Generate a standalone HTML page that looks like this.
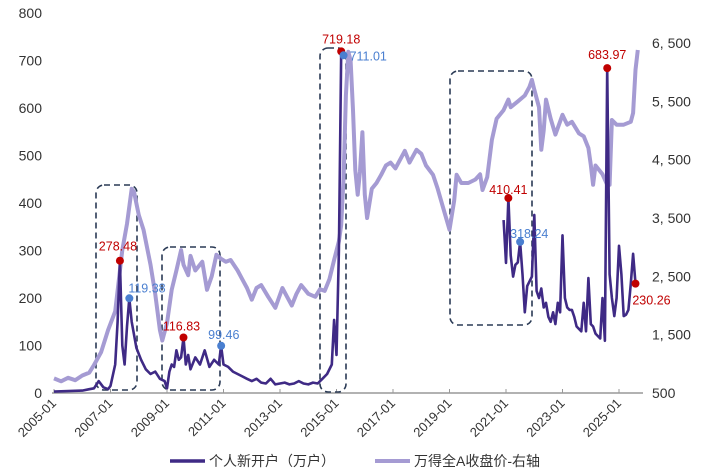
<!DOCTYPE html>
<html><head><meta charset="utf-8"><style>
html,body{margin:0;padding:0;background:#fff;}
svg{display:block;font-family:"Liberation Sans","Noto Sans CJK SC",sans-serif;}
</style></head><body>
<svg id="chart" width="719" height="470" viewBox="0 0 719 470" xmlns="http://www.w3.org/2000/svg">
<g id="axes"></g>
<g id="boxes"></g>
<g id="series"></g>
<g id="anno"></g>
<g id="legend">
  <line x1="170" y1="461" x2="205" y2="461" stroke="#3f2a85" stroke-width="3.5"/>
  <text x="209" y="466" font-size="14" fill="#333">个人新开户（万户）</text>
  <line x1="375" y1="461" x2="410" y2="461" stroke="#a59bd3" stroke-width="4"/>
  <text x="414" y="466" font-size="14" fill="#333">万得全A收盘价-右轴</text>
</g>
</svg>
<script>
// month index = months since 2005-01
const tickLabels = ["2005-01","2007-01","2009-01","2011-01","2013-01","2015-01","2017-01","2019-01","2021-01","2023-01","2025-01"];
const leftTicks = [0,100,200,300,400,500,600,700,800];
const rightTicks = [500,1500,2500,3500,4500,5500,6500];
const rightTickLabels = ["500","1, 500","2, 500","3, 500","4, 500","5, 500","6, 500"];

const indexMonths = [0,3,6,9,12,15,17,20,23,26,29,31,33,34,36,38,41,43,45,46,48,50,52,54,55,57,58,60,63,65,67,69,71,73,75,78,80,82,84,86,88,91,94,97,99,101,103,105,108,111,113,115,117,119,121,122,123,124,125,126,127,128,129,130,131,132,133,135,137,139,141,143,145,147,149,151,154,156,158,161,163,165,168,170,171,173,176,179,181,182,184,186,188,191,193,194,197,200,202,203,204,206,207,208,209,211,213,216,218,220,223,225,227,228,229,230,233,235,236,237,239,242,245,246,247,248];
const indexValues = [750,700,760,720,800,850,980,1200,1580,1900,2950,3400,4000,3950,3550,3300,2700,2200,1580,1400,1700,2270,2600,2950,2700,2520,2850,2600,2750,2270,2500,2870,2800,2750,2780,2600,2450,2300,2100,2300,2350,2150,1960,2300,2150,2000,2200,2350,2200,2150,2280,2250,2450,2780,3100,3380,4200,5600,6350,6200,5350,4320,3900,4300,4970,3900,3500,4000,4100,4240,4400,4450,4350,4500,4650,4450,4670,4600,4400,4240,4000,3720,3300,3800,4240,4100,4100,4160,4250,3980,4200,4840,5200,5350,5530,5400,5500,5600,5750,5870,5700,5400,4670,5000,5530,5200,4930,5270,5100,5150,4950,4900,4700,4410,4070,4400,4250,4070,4070,5180,5100,5100,5150,5300,6040,6380];

const accMonths = [0,6,12,15,17,19,21,23,24,26,27,28,29,30,31,32,33,35,37,39,41,43,45,47,48,49,50,51,52,53,54,55,56,57,58,60,62,64,66,68,70,71,72,74,76,78,80,82,84,86,88,90,92,94,96,98,100,102,104,106,108,110,112,114,116,118,119,120,121,122,123,null,191,192,193,194,195,196,197,198,199,200,201,202,203,204,205,206,207,208,209,210,211,212,213,214,215,216,217,218,219,220,221,222,223,224,225,226,227,228,229,230,231,232,233,234,235,236,237,238,239,240,241,242,243,244,245,246,247,248];
const accValues = [3,4,5,8,10,25,12,8,15,60,150,278.48,100,60,140,199.38,150,95,70,50,40,45,30,25,10,45,60,55,90,70,75,116.83,60,80,50,75,60,90,55,70,60,99.46,60,55,45,40,35,30,25,30,22,20,30,18,20,22,18,20,25,20,18,22,20,30,40,60,154,80,300,719.18,711.01,null,364,274,410.41,290,245,270,275,318.24,250,170,225,235,245,375,215,200,220,180,190,160,150,170,145,190,170,332,200,180,175,175,160,140,135,130,190,130,242,145,140,125,120,115,200,110,683.97,250,200,162,200,310,250,162,165,175,230,293,230.26];

const X0=54, PXM=56.5/24;
function xScale(m){return X0+m*PXM;}
function yLeft(v){return 393-v*0.475;}
function yRight(v){return 393-(v-500)*0.05833;}

const NS="http://www.w3.org/2000/svg";
function mk(tag,attrs,parent){const e=document.createElementNS(NS,tag);for(const k in attrs)e.setAttribute(k,attrs[k]);parent.appendChild(e);return e;}

const axes=document.getElementById('axes');
let ax=mk('line',{x1:52,y1:393,x2:643,y2:393,stroke:'#999','stroke-width':1.5},axes);


tickLabels.forEach((t,i)=>{
  const x=xScale(i*24);
  const tk=mk('line',{x1:x,y1:389,x2:x,y2:393,stroke:'#999','stroke-width':1},axes);
  
  
  const tx=mk('text',{x:x+3,y:404,'font-size':13,fill:'#333','text-anchor':'end',transform:`rotate(-45 ${x+3} 404)`},axes);
  tx.textContent=t;
  
  
});
leftTicks.forEach(v=>{
  const tx=mk('text',{x:42,y:yLeft(v)+5,'font-size':14,fill:'#333','text-anchor':'end'},axes);
  tx.textContent=v;
  
  
});
rightTicks.forEach((v,i)=>{
  const tx=mk('text',{x:652,y:yRight(v)+5,'font-size':14,fill:'#333'},axes);
  tx.textContent=rightTickLabels[i];
  
  
});

const boxes=document.getElementById('boxes');
[[96,185,137,390],[162,247,220,390],[320,48,346,392],[450,71,532,325]].forEach(b=>{
  const r=mk('rect',{x:b[0],y:b[1],width:b[2]-b[0],height:b[3]-b[1],rx:8,fill:'none',stroke:'#2a3a55','stroke-width':1.6,'stroke-dasharray':'6,4'},boxes);
  
  
});

const series=document.getElementById('series');
function pathFrom(ms,vs,ys){let d='',pen=false;for(let i=0;i<ms.length;i++){if(ms[i]===null||vs[i]===null){pen=false;continue;}d+=(pen?'L':'M')+xScale(ms[i]).toFixed(1)+','+ys(vs[i]).toFixed(1);pen=true;}return d;}
const lp=mk('path',{d:pathFrom(indexMonths,indexValues,yRight),fill:'none',stroke:'#a59bd3','stroke-width':4,'stroke-linejoin':'round'},series);


const dp=mk('path',{d:pathFrom(accMonths,accValues,yLeft),fill:'none',stroke:'#3f2a85','stroke-width':2.6,'stroke-linejoin':'round'},series);



const annoValues=[278.48,199.38,116.83,99.46,719.18,711.01,410.41,318.24,683.97,230.26];
const annoColors=['#c00000','#4a7fd0','#c00000','#4a7fd0','#c00000','#4a7fd0','#c00000','#4a7fd0','#c00000','#c00000'];
const annoOffsets=[[-2,-10,'middle'],[-1,-6,'start'],[-2,-7,'middle'],[-13,-7,'start'],[0,-8,'middle'],[6,5,'start'],[0,-4,'middle'],[-10,-4,'start'],[0,-9,'middle'],[16,21,'middle']];
const anno=document.getElementById('anno');
annoValues.forEach((v,i)=>{
  const idx=accValues.indexOf(v);
  const x=xScale(accMonths[idx]), y=yLeft(v);
  const c=mk('circle',{cx:x,cy:y,r:4,fill:annoColors[i]},anno);
  
  
  const o=annoOffsets[i];
  const t=mk('text',{x:x+o[0],y:y+o[1],'font-size':12.5,fill:annoColors[i],'text-anchor':o[2]},anno);
  t.textContent=(i===1?'119.38':v.toFixed(2));
  
  
});
</script>
</body></html>
